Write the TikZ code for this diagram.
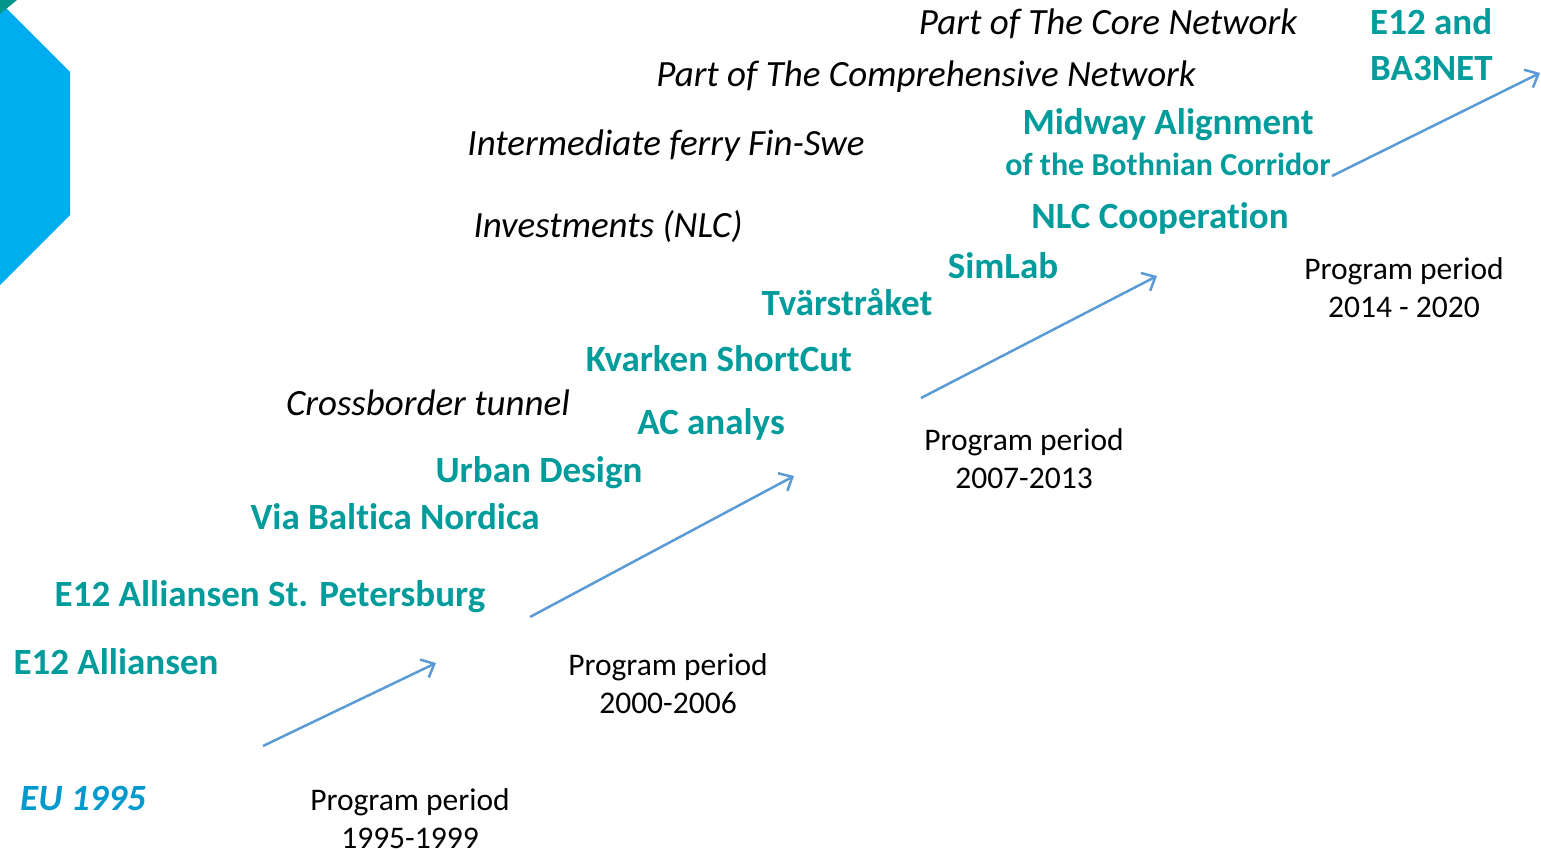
\documentclass[tikz,border=0pt]{standalone}
\usepackage{fontspec}
\setmainfont{Carlito}[Ligatures={NoCommon}]
\usetikzlibrary{arrows.meta}
\definecolor{tealc}{RGB}{0,155,155}
\definecolor{linec}{RGB}{91,155,213}
\definecolor{eublue}{RGB}{0,153,204}
\definecolor{hexblue}{RGB}{0,174,239}
\definecolor{hexteal}{RGB}{0,150,140}
\tikzset{
  proj/.style={text=tealc,font=\fontsize{37}{46}\selectfont\bfseries,inner sep=0pt,yshift=-2.5pt},
  projsmall/.style={text=tealc,font=\fontsize{32}{38}\selectfont\bfseries,inner sep=0pt,yshift=-1pt},
  idea/.style={text=black,font=\fontsize{37}{44}\selectfont\itshape,inner sep=0pt,yshift=-2pt},
  period/.style={text=black,font=\fontsize{31.5}{38}\selectfont,align=center,inner sep=0pt,yshift=-1pt},
  stepline/.style={draw=linec,line width=2.5pt,-{Straight Barb[length=11pt,width=20pt,line width=2.5pt]}}
}
\begin{document}
\begin{tikzpicture}[x=1pt,y=-1pt]
\useasboundingbox (0,0) rectangle (1541,850);
\fill[hexblue] (0,2) -- (70,72) -- (70,215) -- (0,285) -- cycle;
\fill[hexteal] (0,0) -- (17,0) -- (0,14) -- cycle;

\node[idea] (core) at (1108,22) {Part of The Core Network};
\node[proj,align=left,anchor=north west] (ba3) at (1370,6) {E12 and\\BA3NET};
\node[idea] (comp) at (926,75) {Part of The Comprehensive Network};
\node[proj] (midway) at (1168,122) {Midway Alignment};
\node[projsmall] (bothnian) at (1168,163) {of the Bothnian Corridor};
\node[idea] (ferry) at (666,144) {Intermediate ferry Fin-Swe};
\node[idea] (invest) at (608,225) {Investments (NLC)};
\node[proj] (nlc) at (1160,216) {NLC Cooperation};
\node[proj] (simlab) at (1003,263) {SimLab};
\node[period] (p4) at (1404,287) {Program period\\2014 - 2020};
\node[proj] (tvar) at (847,300) {Tvärstråket};
\node[proj] (kvarken) at (719,356) {Kvarken ShortCut};
\node[idea] (tunnel) at (428,401) {Crossborder tunnel};
\node[proj] (ac) at (711,422) {AC analys};
\node[period] (p3) at (1024,458) {Program period\\2007-2013};
\node[proj] (urban) at (539,470) {Urban Design};
\node[proj] (via) at (395,514) {Via Baltica Nordica};
\node[proj] (e12sp) at (270,594) {E12 Alliansen St. Petersburg};
\node[proj] (e12) at (116,659) {E12 Alliansen};
\node[period] (p2) at (668,683) {Program period\\2000-2006};
\node[text=eublue,font=\fontsize{37}{44}\selectfont\bfseries\itshape,inner sep=0pt,yshift=-2pt] (eu) at (83,797) {EU 1995};
\node[period] (p1) at (410,818) {Program period\\1995-1999};

\coordinate (a1s) at (263,746); \coordinate (a1e) at (436,663);
\coordinate (a2s) at (530,617); \coordinate (a2e) at (794,476);
\coordinate (a3s) at (921,398); \coordinate (a3e) at (1157,276);
\coordinate (a4s) at (1332,176); \coordinate (a4e) at (1540,73);
\draw[stepline] (a1s) -- (a1e);
\draw[stepline] (a2s) -- (a2e);
\draw[stepline] (a3s) -- (a3e);
\draw[stepline] (a4s) -- (a4e);
\end{tikzpicture}
\end{document}
